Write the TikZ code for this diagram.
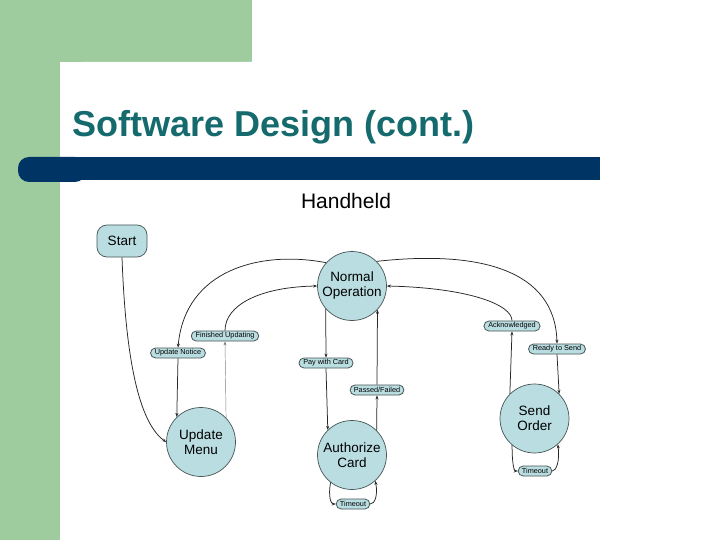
\documentclass[tikz,border=0pt]{standalone}
\usepackage{fontspec}
\setmainfont{Liberation Sans}
\usetikzlibrary{arrows.meta,shapes.misc}
\definecolor{sidegreen}{RGB}{158,204,158}
\definecolor{barblue}{RGB}{0,52,100}
\definecolor{titleteal}{RGB}{20,106,108}
\definecolor{nodefill}{RGB}{186,221,225}
\definecolor{nodeline}{RGB}{70,85,85}
\begin{document}
\begin{tikzpicture}[x=1pt,y=-1pt,
  state/.style={circle,draw=nodeline,line width=0.7pt,fill=nodefill,minimum size=69pt,inner sep=0pt,align=center,font=\fontsize{13.5}{15}\selectfont},
  lbl/.style={rounded rectangle,draw=nodeline,line width=0.8pt,fill=nodefill,minimum height=10pt,inner ysep=0pt,inner xsep=3pt,font=\fontsize{7.3}{8}\selectfont},
  arr/.style={-{Stealth[length=4pt,width=3pt]},line width=0.75pt,draw=black!85},
  thin/.style={-{Stealth[length=4pt,width=3pt]},line width=0.45pt,draw=black!50}]
\useasboundingbox (0,0) rectangle (720,540);
% background
\fill[sidegreen] (0,0) rectangle (252,62);
\fill[sidegreen] (0,0) rectangle (60,540);
\fill[white,rounded corners=22pt] (60,640) -- (60,62) -- (820,62) -- (820,640) -- cycle;
\fill[barblue,rounded corners=11pt] (18,157) rectangle (86,182);
\fill[barblue] (40,157) rectangle (600,180);
\node[anchor=base west,inner sep=0pt,text=titleteal,font=\fontsize{36}{40}\selectfont\bfseries] (title) at (72,137) {Software Design (cont.)};
\node[anchor=base,inner sep=0pt,font=\fontsize{21}{24}\selectfont] (hh) at (346,208) {Handheld};
% states
\node[draw=nodeline,line width=0.7pt,fill=nodefill,rounded corners=10pt,minimum width=50pt,minimum height=32pt,inner sep=0pt,font=\fontsize{13.5}{15}\selectfont] (start) at (122,241) {Start};
\node[state] (no) at (352,286) {Normal\\Operation};
\node[state] (um) at (201,442) {Update\\Menu};
\node[state] (ac) at (352,455) {Authorize\\Card};
\node[state] (so) at (534.5,418.5) {Send\\Order};
% labels
\node[lbl] (fu) at (225,336) {Finished Updating};
\node[lbl] (un) at (178,353) {Update Notice};
\node[lbl] (pc) at (326,363) {Pay with Card};
\node[lbl] (pf) at (377,390) {Passed/Failed};
\node[lbl] (ak) at (512,326) {Acknowledged};
\node[lbl] (rs) at (557,349) {Ready to Send};
\node[lbl] (t1) at (353,504) {Timeout};
\node[lbl] (t2) at (535,471) {Timeout};
% connectors
\draw[arr] (start.south) .. controls (125,340) and (135,420) .. (um.west);
\draw[arr] (no.138) .. controls (260,250) and (185,270) .. (un.north);
\draw[arr] (un.south) -- (um.134);
\draw[thin] (um.44) -- (fu.south);
\draw[arr] (fu.north) .. controls (225,305) and (260,287) .. (no.west);
\draw[arr] (no.221) -- (pc.north);
\draw[arr] (pc.south) -- (ac.134);
\draw[arr] (ac.45) -- (pf.south);
\draw[arr] (pf.north) -- (no.-43.5);
\draw[arr] (no.45) .. controls (480,250) and (555,270) .. (rs.north);
\draw[arr] (rs.south) -- (so.45);
\draw[arr] (so.135) -- (ak.south);
\draw[arr] (ak.north) .. controls (512,305) and (470,288) .. (no.east);
\draw[arr] (ac.232) .. controls (328,497) and (331,504) .. (t1.west);
\draw[arr] (t1.east) .. controls (375,504) and (378,495) .. (ac.312);
\draw[arr] (so.230) .. controls (512,463) and (514,471) .. (t2.west);
\draw[arr] (t2.east) .. controls (556,471) and (560,462) .. (so.312);
\end{tikzpicture}
\end{document}
